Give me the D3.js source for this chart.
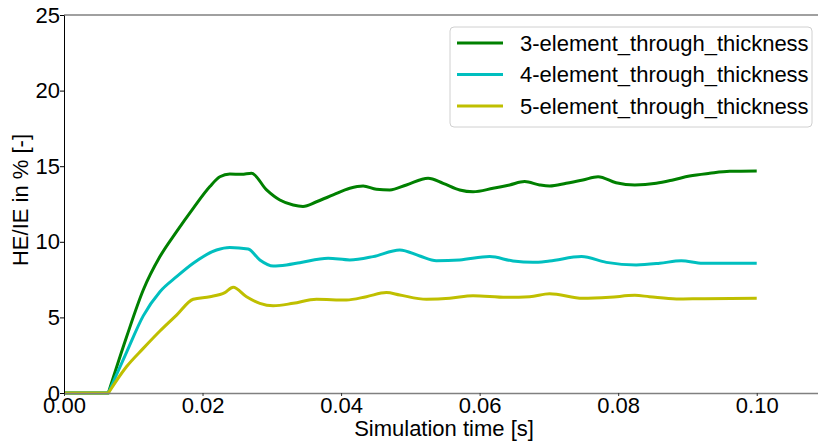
<!DOCTYPE html>
<html>
<head>
<meta charset="utf-8">
<script src="https://cdn.jsdelivr.net/npm/d3@7"></script>
<style>
  body { margin: 0; background: #fff; }
  svg { display: block; font-family: "Liberation Sans", Arial, sans-serif; }
</style>
</head>
<body>
<div id="chart"></div>
<script>
// series names
const seriesNames = ["3-element_through_thickness", "4-element_through_thickness", "5-element_through_thickness"];
const seriesColors = ["#008000", "#00bfbf", "#bfbf00"];

// time [s] and HE/IE [%]
const time3 = [0, 0.0064, 0.00904, 0.01144, 0.01385, 0.01625, 0.01865, 0.02106, 0.0225, 0.02394, 0.02563, 0.02707, 0.02924, 0.03116, 0.03308, 0.0345, 0.03645, 0.03885, 0.04125, 0.04318, 0.0451, 0.04703, 0.04943, 0.05256, 0.05473, 0.05712, 0.05905, 0.06193, 0.06433, 0.0665, 0.06866, 0.0701, 0.0725, 0.0749, 0.0771, 0.0797, 0.0824, 0.0855, 0.0879, 0.0903, 0.0932, 0.0961, 0.1];
const he3 = [0, 0, 3.72, 6.81, 9.02, 10.67, 12.21, 13.65, 14.3, 14.48, 14.46, 14.53, 13.43, 12.76, 12.43, 12.34, 12.65, 13.1, 13.54, 13.69, 13.47, 13.43, 13.76, 14.2, 13.87, 13.43, 13.31, 13.54, 13.76, 13.98, 13.76, 13.69, 13.87, 14.09, 14.31, 13.91, 13.76, 13.87, 14.09, 14.35, 14.53, 14.66, 14.68];

const time4 = [0, 0.0064, 0.00904, 0.01144, 0.01385, 0.01625, 0.01865, 0.02202, 0.02394, 0.02659, 0.02827, 0.0302, 0.03212, 0.03404, 0.03813, 0.04125, 0.04462, 0.04847, 0.05135, 0.05375, 0.05712, 0.06145, 0.06481, 0.06769, 0.0701, 0.0747, 0.0783, 0.0826, 0.086, 0.0891, 0.0922, 0.1];
const he4 = [0, 0, 2.7, 5.1, 6.7, 7.69, 8.58, 9.46, 9.63, 9.52, 8.8, 8.4, 8.47, 8.62, 8.91, 8.8, 9.02, 9.46, 9.06, 8.75, 8.8, 9.02, 8.73, 8.64, 8.73, 9.02, 8.64, 8.47, 8.58, 8.75, 8.58, 8.58];

const time5 = [0, 0.0064, 0.00904, 0.01144, 0.01385, 0.01625, 0.01865, 0.02106, 0.02322, 0.02442, 0.02635, 0.02827, 0.0302, 0.03308, 0.03645, 0.04077, 0.04366, 0.04654, 0.04847, 0.05232, 0.05568, 0.05905, 0.06385, 0.06722, 0.0701, 0.0749, 0.0788, 0.0824, 0.0845, 0.0884, 0.0922, 0.1];
const he5 = [0, 0, 1.75, 2.95, 4.1, 5.15, 6.2, 6.37, 6.64, 6.99, 6.37, 5.93, 5.77, 5.93, 6.2, 6.15, 6.37, 6.64, 6.48, 6.2, 6.26, 6.44, 6.33, 6.37, 6.57, 6.26, 6.33, 6.46, 6.37, 6.22, 6.24, 6.26];

const xTicks = [0, 0.02, 0.04, 0.06, 0.08, 0.10];
const yTicks = [0, 5, 10, 15, 20, 25];

const W = 818, H = 442;
const margin = { top: 15, right: -8, bottom: 49, left: 64 };
const width = W - margin.left - margin.right;
const height = H - margin.top - margin.bottom;
const fontSize = 22;

const svg = d3.select("#chart").append("svg")
    .attr("width", W)
    .attr("height", H);

const g = svg.append("g")
    .attr("transform", `translate(${margin.left},${margin.top})`);

const x = d3.scaleLinear().domain([0, 0.11]).range([0, width]);
const y = d3.scaleLinear().domain([0, 25]).range([height, 0]);

const series = [
    { name: seriesNames[0], color: seriesColors[0], t: time3, v: he3 },
    { name: seriesNames[1], color: seriesColors[1], t: time4, v: he4 },
    { name: seriesNames[2], color: seriesColors[2], t: time5, v: he5 }
];

// flat start is straight, the rest smooth
const flatLine = d3.line().x(d => x(d[0])).y(d => y(d[1]));
const smoothLine = d3.line()
    .x(d => x(d[0]))
    .y(d => y(d[1]))
    .curve(d3.curveMonotoneX);

function seriesPath(d) {
    const pts = d.t.map((t, i) => [t, d.v[i]]);
    return flatLine(pts.slice(0, 2)) + smoothLine(pts.slice(1)).replace(/^M/, "L");
}

// top spine
g.append("line").attr("x1", 0).attr("x2", width + 20).attr("y1", 0).attr("y2", 0)
    .attr("stroke", "#808080").attr("stroke-width", 1.5);

// lines
g.selectAll(".series").data(series).join("path")
    .attr("class", "series")
    .attr("fill", "none")
    .attr("stroke", d => d.color)
    .attr("stroke-width", 3)
    .attr("stroke-linejoin", "round")
    .attr("d", seriesPath);

// x axis
const xAxis = g.append("g")
    .attr("transform", `translate(0,${height})`)
    .call(d3.axisBottom(x).tickValues(xTicks).tickFormat(d3.format(".2f")).tickSize(3).tickSizeOuter(0));
xAxis.select(".domain").attr("stroke", "#808080").attr("stroke-width", 1.5);
xAxis.selectAll(".tick line").attr("stroke", "#333");
xAxis.selectAll(".tick text")
    .attr("font-size", fontSize)
    .attr("font-family", "Liberation Sans, Arial, sans-serif")
    .attr("fill", "#000")
    .attr("y", 4);

// y axis
const yAxis = g.append("g")
    .call(d3.axisLeft(y).tickValues(yTicks).tickSize(4).tickSizeOuter(0));
yAxis.select(".domain").attr("stroke", "#000").attr("stroke-width", 1);
yAxis.selectAll(".tick line").attr("stroke", "#000");
yAxis.selectAll(".tick text")
    .attr("font-size", fontSize)
    .attr("font-family", "Liberation Sans, Arial, sans-serif")
    .attr("fill", "#000")
    .attr("x", -4);

// axis labels
g.append("text")
    .attr("x", 380)
    .attr("y", height + 43)
    .attr("text-anchor", "middle")
    .attr("font-size", fontSize)
    .text("Simulation time [s]");

g.append("text")
    .attr("transform", "rotate(-90)")
    .attr("x", -height / 2 + 4)
    .attr("y", -36)
    .attr("text-anchor", "middle")
    .attr("font-size", fontSize)
    .text("HE/IE in % [-]");

// legend
const legend = svg.append("g").attr("transform", "translate(450,27)");
legend.append("rect")
    .attr("width", 362).attr("height", 100)
    .attr("rx", 4)
    .attr("fill", "#fff").attr("fill-opacity", 0.8)
    .attr("stroke", "#d0d0d0");
const rows = legend.selectAll(".row").data(series).join("g")
    .attr("class", "row")
    .attr("transform", (d, i) => `translate(0,${16 + i * 31.5})`);
rows.append("line")
    .attr("x1", 7).attr("x2", 53)
    .attr("stroke", d => d.color).attr("stroke-width", 3);
rows.append("text")
    .attr("x", 70).attr("dy", "0.35em")
    .attr("font-size", fontSize)
    .text(d => d.name);
</script>
</body>
</html>
